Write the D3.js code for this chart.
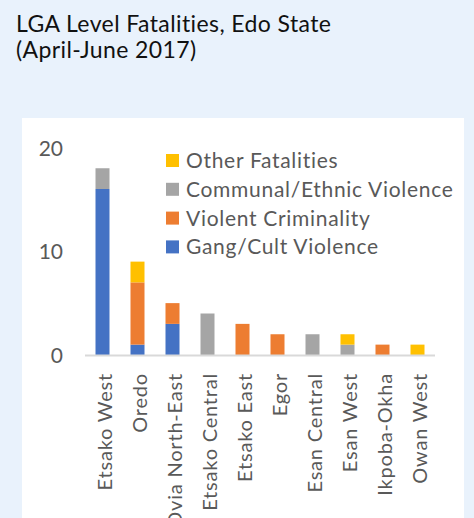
<!DOCTYPE html>
<html><head><meta charset="utf-8">
<script src="https://cdn.jsdelivr.net/npm/d3@7"></script>
<style>
html,body{margin:0;padding:0;background:#e9f2fc;}
svg{display:block;font-family:Lato,"Open Sans",sans-serif;}
</style></head>
<body>
<script>
const categories = ["Etsako West","Oredo","Ovia North-East","Etsako Central","Etsako East","Egor","Esan Central","Esan West","Ikpoba-Okha","Owan West"];
const seriesNames = ["Gang/Cult Violence","Violent Criminality","Communal/Ethnic Violence","Other Fatalities"];
const gangCult   = [16,1,3,0,0,0,0,0,0,0];
const violentCrim= [0,6,2,0,3,2,0,0,1,0];
const communal   = [2,0,0,4,0,0,2,1,0,0];
const other      = [0,2,0,0,0,0,0,1,0,1];
const yTicks = [0,10,20];
const colors = ["#4472C4","#ED7D31","#A5A5A5","#FFC000"];
const titleLines = ["LGA Level Fatalities, Edo State","(April-June 2017)"];

const W=474,H=518;
const svg=d3.select("body").append("svg").attr("width",W).attr("height",H);
svg.append("rect").attr("width",W).attr("height",H).attr("fill","#e9f2fc");
svg.append("rect").attr("x",22).attr("y",118).attr("width",442).attr("height",H-118).attr("fill","#ffffff");

svg.selectAll("text.title").data(titleLines).join("text").attr("class","title")
  .attr("x",16).attr("y",(d,i)=>32+i*26).attr("font-size",23).attr("letter-spacing","0.4px").attr("fill","#111").text(d=>d);

const rows = categories.map((c,i)=>({cat:c,"Gang/Cult Violence":gangCult[i],"Violent Criminality":violentCrim[i],"Communal/Ethnic Violence":communal[i],"Other Fatalities":other[i]}));
const stack=d3.stack().keys(seriesNames)(rows);

const x=d3.scaleBand().domain(categories).range([85,435]).paddingInner(0.6).paddingOuter(0.3);
const y=d3.scaleLinear().domain([0,20]).range([355,147.5]);

const g=svg.append("g");
g.selectAll("g.s").data(stack).join("g").attr("fill",(d,i)=>colors[i])
 .selectAll("rect").data(d=>d.filter(v=>v[1]>v[0])).join("rect")
 .attr("x",d=>x(d.data.cat)).attr("width",x.bandwidth())
 .attr("y",d=>y(d[1])).attr("height",d=>y(d[0])-y(d[1]));

// axis line
g.append("line").attr("x1",85).attr("x2",435).attr("y1",y(0)+0.5).attr("y2",y(0)+0.5).attr("stroke","#d9d9d9").attr("stroke-width",1.8);

// y axis labels
const yAxis=d3.axisLeft(y).tickValues(yTicks).tickSize(0).tickPadding(0);
const ya=svg.append("g").attr("transform","translate(63,0)").call(yAxis);
ya.select(".domain").remove();
ya.selectAll("text").attr("font-size",21).attr("fill","#595959").attr("font-family","Lato,sans-serif").attr("dy","0.36em");

// x labels
const xAxis=d3.axisBottom(x).tickSize(0).tickPadding(0);
const xa=svg.append("g").attr("transform","translate(0,373)").call(xAxis);
xa.select(".domain").remove();
xa.selectAll("text").attr("font-size",20).attr("letter-spacing","0.8px").attr("fill","#595959").attr("font-family","Lato,sans-serif")
  .attr("text-anchor","end").attr("transform","rotate(-90)").attr("x",0).attr("y",0).attr("dx",0).attr("dy","0.35em");
xa.selectAll(".tick").each(function(d){
  d3.select(this).attr("transform",`translate(${x(d)+x.bandwidth()/2+2},0)`);
});

// legend
const legOrder=[3,2,1,0];
const lg=svg.append("g");
legOrder.forEach((si,k)=>{
  const cy=160.5+k*28.8;
  lg.append("rect").attr("x",166).attr("y",cy-6.5).attr("width",13).attr("height",13).attr("fill",colors[si]);
  lg.append("text").attr("x",186).attr("y",cy).attr("dy","0.36em").attr("font-size",21).attr("letter-spacing","0.7px").attr("fill","#595959").text(seriesNames[si]);
});
</script>
</body></html>
